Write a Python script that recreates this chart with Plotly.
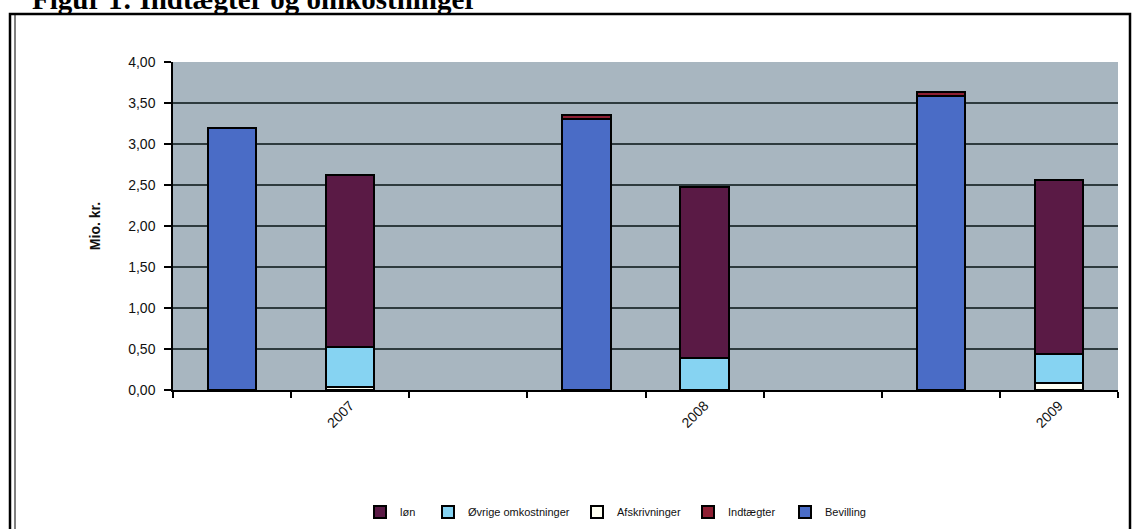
import plotly.graph_objects as go

years = ["2007", "2008", "2009"]
bevilling = [3.20, 3.31, 3.58]
indtaegter = [0.00, 0.04, 0.06]
loen = [2.09, 2.08, 2.12]
oevrige = [0.49, 0.39, 0.36]
afskrivninger = [0.04, 0.00, 0.08]

x_income = [3 * i + 1 for i in range(len(years))]
x_expense = [3 * i + 2 for i in range(len(years))]

# plot area geometry (pixels)
W, H = 1135, 529
L, R, T, B = 173, 1118, 62, 390
pw, ph = R - L, B - T


def px(x):
    return (x - L) / pw


def py(y):
    return (B - y) / ph


BW = 0.41
line = dict(color="black", width=2)
fig = go.Figure()

fig.add_bar(x=x_expense, y=afskrivninger, name="Afskrivninger", width=BW,
            marker=dict(color="#FFFFF2", line=line), legend="legend3")
fig.add_bar(x=x_expense, y=oevrige, name="Øvrige omkostninger", width=BW,
            marker=dict(color="#86D3F2", line=line), legend="legend2")
fig.add_bar(x=x_expense, y=loen, name="løn", width=BW,
            marker=dict(color="#5A1A45", line=line), legend="legend")
fig.add_bar(x=x_income, y=bevilling, name="Bevilling", width=BW,
            marker=dict(color="#4A6CC6", line=line), legend="legend5")
fig.add_bar(x=x_income, y=indtaegter, name="Indtægter", width=BW,
            marker=dict(color="#8E1F33", line=line), legend="legend4")
fig.update_traces(showlegend=True)

leg_font = dict(family="Arial, Liberation Sans", size=11, color="#111")
leg_y = py(512)


def leg(text_x):
    return dict(x=px(text_x - 40), y=leg_y, xanchor="left", yanchor="middle",
                orientation="h", font=leg_font, bgcolor="rgba(0,0,0,0)",
                itemwidth=30, visible=True)


fig.update_layout(
    width=W, height=H,
    margin=dict(l=L, r=W - R, t=T, b=H - B, autoexpand=False),
    barmode="stack",
    bargap=0,
    showlegend=True,
    plot_bgcolor="#A8B6C0",
    paper_bgcolor="white",
    separators=",.",
    font=dict(family="Arial, Liberation Sans", color="#111"),
    legend=leg(400),
    legend2=leg(468),
    legend3=leg(617),
    legend4=leg(728),
    legend5=leg(825),
    xaxis=dict(
        range=[0.5, 8.5], automargin=False,
        tickmode="array", tickvals=x_expense, ticktext=years,
        tickangle=-45, ticks="", showgrid=False, zeroline=False,
        showline=True, linecolor="black", linewidth=2,
        tickfont=dict(size=14, color="#111"),
        minor=dict(tickmode="array", tickvals=[k + 0.5 for k in range(9)],
                   ticks="outside", ticklen=6, tickcolor="black", tickwidth=1.5,
                   showgrid=False),
    ),
    yaxis=dict(
        range=[0, 4], dtick=0.5, tickformat=".2f", automargin=False,
        showgrid=True, gridcolor="#2E3B3E", gridwidth=1.5,
        zeroline=False, showline=True, linecolor="black", linewidth=1.5,
        ticks="outside", ticklen=7, tickcolor="black", tickwidth=1.5,
        ticklabelstandoff=6,
        tickfont=dict(size=14, color="#111"),
        title=dict(text="<b>Mio. kr.</b>", font=dict(size=14, color="#111"),
                   standoff=24),
    ),
    shapes=[
        dict(type="rect", xref="paper", yref="paper",
             x0=px(10), x1=px(1130), y0=py(540), y1=py(14),
             line=dict(color="black", width=2.5), layer="above"),
        dict(type="line", xref="paper", yref="paper",
             x0=px(15), x1=px(15), y0=py(540), y1=py(15),
             line=dict(color="black", width=1), layer="above"),
    ],
    annotations=[
        dict(text="<b>Figur 1: Indtægter og omkostninger</b>",
             xref="paper", yref="paper", x=px(30), y=py(17),
             xanchor="left", yanchor="bottom", showarrow=False,
             font=dict(family="Liberation Serif, Times New Roman", size=29,
                       color="black")),
    ],
)

fig.write_html(
    "out.html",
    config={"displayModeBar": False},
    post_script="document.body.style.margin='0';"
                "document.body.style.overflow='hidden';",
)
